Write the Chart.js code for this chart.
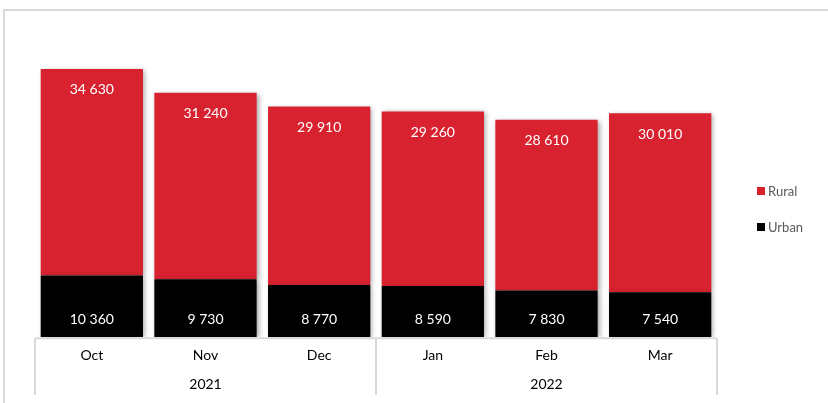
<!DOCTYPE html>
<html>
<head>
<meta charset="utf-8">
<script src="https://cdn.jsdelivr.net/npm/chart.js@4.4.1/dist/chart.umd.min.js"></script>
<style>
  html, body { margin: 0; padding: 0; background: #fff; overflow: hidden; }
  #wrap { position: relative; width: 828px; height: 403px; }
  #frame { position: absolute; left: 3px; top: 9px; width: 840px; height: 420px;
           border-left: 2px solid #d9d9d9; border-top: 2px solid #d9d9d9; box-sizing: border-box; }
  canvas { position: absolute; left: 0; top: 0; }
</style>
</head>
<body>
<div id="wrap">
  <div id="frame"></div>
  <canvas id="c" width="828" height="403"></canvas>
</div>
<script>
// Monthly counts, split by area
const months = ['Oct', 'Nov', 'Dec', 'Jan', 'Feb', 'Mar'];
const years = ['2021', '2022'];
const monthsPerYear = [3, 3];
const urban = [10360, 9730, 8770, 8590, 7830, 7540];
const rural = [34630, 31240, 29910, 29260, 28610, 30010];

const RED = '#d8222f';
const FONT = 'Lato, "Open Sans", sans-serif';

function fmt(v) {
  return String(v).replace(/\B(?=(\d{3})+(?!\d))/g, ' ');
}

// soft shadow on the bars
const barShadow = {
  id: 'barShadow',
  beforeDatasetsDraw(chart) {
    const ctx = chart.ctx;
    ctx.save();
    ctx.shadowColor = 'rgba(0,0,0,0.35)';
    ctx.shadowBlur = 5;
    ctx.shadowOffsetX = 2;
    ctx.shadowOffsetY = 1;
  },
  afterDatasetsDraw(chart) {
    chart.ctx.restore();
  }
};

// value labels, year row, category separators and legend
const decorations = {
  id: 'decorations',
  afterDraw(chart) {
    const ctx = chart.ctx;
    const area = chart.chartArea;
    const x = chart.scales.x;
    ctx.save();

    // value labels
    ctx.fillStyle = '#ffffff';
    ctx.font = '14px ' + FONT;
    ctx.textAlign = 'center';
    ctx.textBaseline = 'middle';
    chart.getDatasetMeta(0).data.forEach((bar, i) => {
      ctx.fillText(fmt(urban[i]), bar.x, bar.base - 18);
    });
    chart.getDatasetMeta(1).data.forEach((bar, i) => {
      ctx.fillText(fmt(rural[i]), bar.x, bar.y + 21);
    });

    // axis line and group separators
    const half = (x.getPixelForValue(1) - x.getPixelForValue(0)) / 2;
    const bottom = area.bottom + 1;
    ctx.strokeStyle = '#d9d9d9';
    ctx.lineWidth = 2;
    ctx.beginPath();
    ctx.moveTo(area.left, bottom);
    ctx.lineTo(area.right, bottom);
    let idx = 0;
    const bounds = [x.getPixelForValue(0) - half];
    monthsPerYear.forEach(n => {
      idx += n;
      bounds.push(x.getPixelForValue(idx - 1) + half);
    });
    bounds.forEach(b => {
      ctx.moveTo(b, bottom);
      ctx.lineTo(b, 395);
    });
    ctx.stroke();

    // year labels
    ctx.fillStyle = '#000000';
    ctx.font = '14px ' + FONT;
    years.forEach((y, k) => {
      ctx.fillText(y, (bounds[k] + bounds[k + 1]) / 2, 384);
    });

    // legend
    const items = [
      { label: 'Rural', color: RED, y: 191 },
      { label: 'Urban', color: '#000000', y: 227 }
    ];
    ctx.textAlign = 'left';
    ctx.font = '13px ' + FONT;
    items.forEach(it => {
      ctx.fillStyle = it.color;
      ctx.fillRect(757, it.y - 4, 8, 8);
      ctx.fillStyle = '#595959';
      ctx.fillText(it.label, 768, it.y + 1);
    });
    ctx.restore();
  }
};

new Chart(document.getElementById('c'), {
  type: 'bar',
  data: {
    labels: months,
    datasets: [
      { label: 'Urban', data: urban, backgroundColor: '#000000', borderWidth: 0 },
      { label: 'Rural', data: rural, backgroundColor: RED, borderWidth: 0 }
    ]
  },
  options: {
    responsive: false,
    animation: false,
    devicePixelRatio: 1,
    layout: { padding: { left: 35, right: 111, top: 39, bottom: 29 } },
    datasets: { bar: { categoryPercentage: 0.9, barPercentage: 1 } },
    plugins: { legend: { display: false }, tooltip: { enabled: false } },
    scales: {
      x: {
        stacked: true,
        border: { display: false },
        grid: { display: false, drawTicks: false },
        ticks: { color: '#000000', font: { family: FONT, size: 14 }, padding: 10, maxRotation: 0 }
      },
      y: {
        stacked: true,
        display: false,
        min: 0,
        max: 50000
      }
    }
  },
  plugins: [barShadow, decorations]
});
</script>
</body>
</html>
